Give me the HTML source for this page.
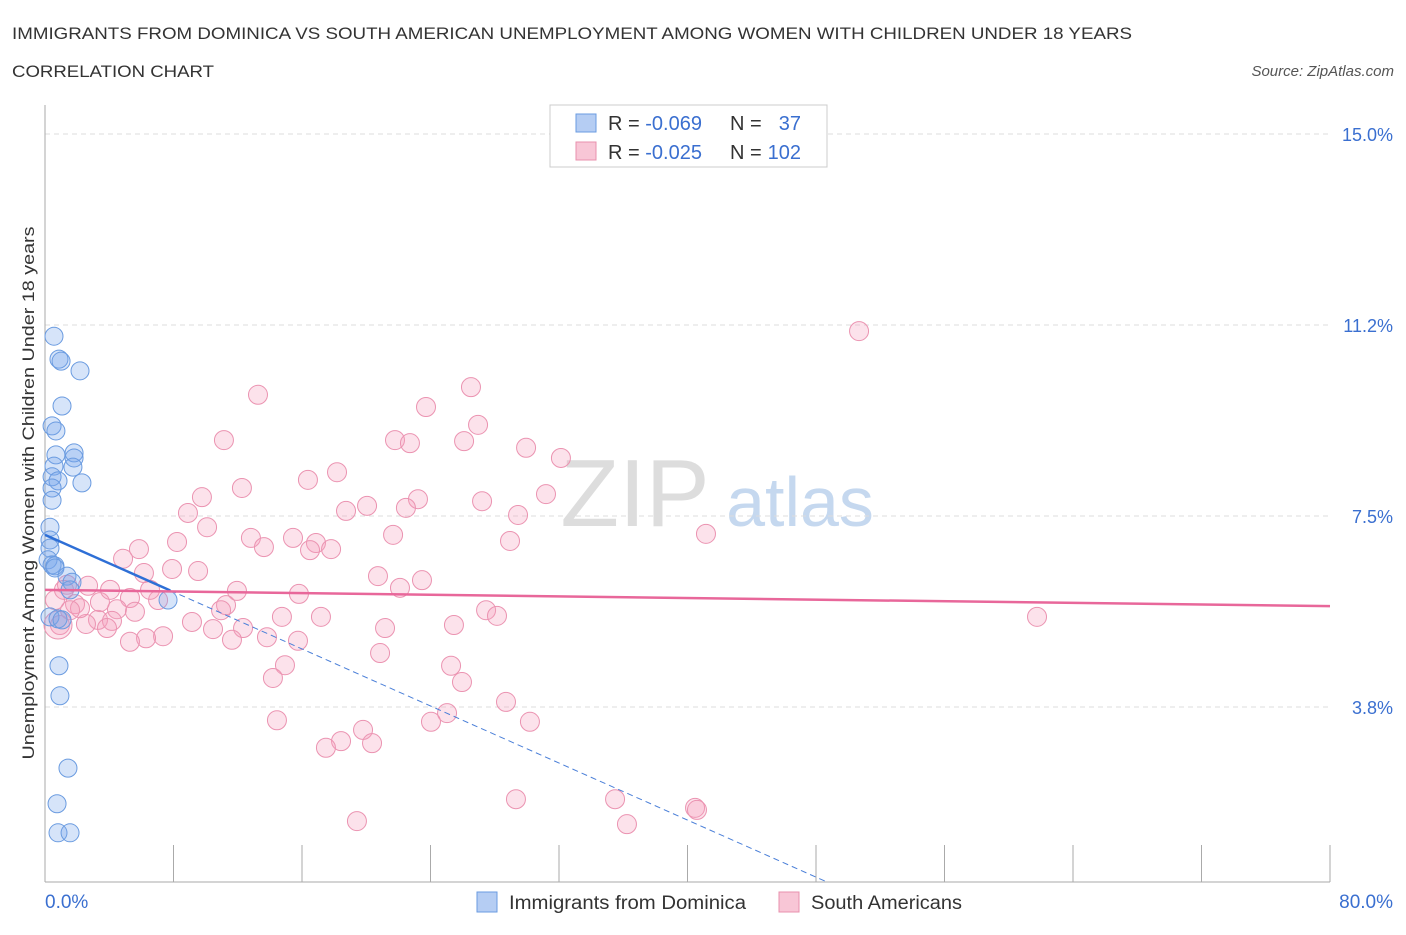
<!DOCTYPE html>
<html><head><meta charset="utf-8"><style>
body{margin:0;background:#fff;font-family:"Liberation Sans",sans-serif;}
svg text{font-family:"Liberation Sans",sans-serif;}
</style></head><body>
<svg id="chart" width="1406" height="930" xmlns="http://www.w3.org/2000/svg">
<text x="12" y="39" font-size="17" fill="#333" textLength="1120" lengthAdjust="spacingAndGlyphs">IMMIGRANTS FROM DOMINICA VS SOUTH AMERICAN UNEMPLOYMENT AMONG WOMEN WITH CHILDREN UNDER 18 YEARS</text>
<text x="12" y="77" font-size="17" fill="#333" textLength="202" lengthAdjust="spacingAndGlyphs">CORRELATION CHART</text>
<text x="1394" y="76" font-size="15" fill="#555" font-style="italic" text-anchor="end">Source: ZipAtlas.com</text>
<text transform="translate(34,493) rotate(-90)" font-size="17" fill="#333" text-anchor="middle" textLength="533" lengthAdjust="spacingAndGlyphs">Unemployment Among Women with Children Under 18 years</text>
<g><text x="635" y="526" font-size="96" fill="#ddd" font-family="Liberation Serif" text-anchor="middle">ZIP</text><text x="800" y="526" font-size="70" fill="#c5d8ef" text-anchor="middle">atlas</text></g>
<g id="grid"></g><g id="axes"></g><g id="pts"></g><g id="lines"></g>
<g>
<rect x="550" y="105" width="277" height="62" fill="#fff" stroke="#ccc"/>
<rect x="576" y="114" width="20" height="18" fill="#b5cdf3" stroke="#6a9be0"/>
<rect x="576" y="142" width="20" height="18" fill="#f8c6d6" stroke="#e890ad"/>
<text x="608" y="130" font-size="20" fill="#333">R = <tspan fill="#3a6fd0">-0.069</tspan></text>
<text x="730" y="130" font-size="20" fill="#333">N =</text>
<text x="801" y="130" font-size="20" fill="#3a6fd0" text-anchor="end">37</text>
<text x="608" y="159" font-size="20" fill="#333">R = <tspan fill="#3a6fd0">-0.025</tspan></text>
<text x="730" y="159" font-size="20" fill="#333">N =</text>
<text x="801" y="159" font-size="20" fill="#3a6fd0" text-anchor="end">102</text>
</g>
<g>
<rect x="477" y="892" width="20" height="20" fill="#b5cdf3" stroke="#6a9be0"/>
<text x="509" y="909" font-size="19" fill="#333" textLength="237" lengthAdjust="spacingAndGlyphs">Immigrants from Dominica</text>
<rect x="779" y="892" width="20" height="20" fill="#f8c6d6" stroke="#e890ad"/>
<text x="811" y="909" font-size="19" fill="#333" textLength="151" lengthAdjust="spacingAndGlyphs">South Americans</text>
</g>
</svg>
<script>
const yTicks=[15,11.25,7.5,3.75];
const yTickLabels=["15.0%","11.2%","7.5%","3.8%"];
const xTickVals=[0,8,16,24,32,40,48,56,64,72,80];
const blueX=[0.56,0.87,1.0,2.18,1.06,0.44,0.68,0.68,1.81,1.81,0.56,1.74,0.44,0.81,2.30,0.44,0.44,0.31,0.31,0.31,0.19,0.44,0.62,0.62,1.37,1.68,1.56,7.66,0.31,0.81,1.06,0.87,0.93,1.43,0.75,0.81,1.56];
const blueY=[11.03,10.58,10.54,10.35,9.66,9.27,9.17,8.70,8.74,8.64,8.48,8.46,8.27,8.19,8.15,8.05,7.81,7.28,7.03,6.87,6.64,6.54,6.52,6.48,6.32,6.20,6.05,5.85,5.52,5.48,5.46,4.56,3.97,2.55,1.85,1.28,1.28];
const pinkX=[50.68,13.26,26.52,23.72,11.14,21.79,22.72,26.09,26.96,29.95,32.12,18.18,16.37,12.26,9.77,31.19,23.22,27.21,20.05,18.74,22.47,8.90,29.45,10.09,41.15,12.82,21.67,28.95,15.44,8.22,16.87,13.63,17.81,5.85,16.50,4.86,9.53,7.91,20.73,23.47,2.68,6.16,22.10,11.95,15.81,1.37,5.29,7.04,4.48,11.27,10.96,27.46,28.14,17.18,14.75,61.76,9.15,3.30,4.17,25.46,2.55,0.93,10.46,3.86,12.33,21.17,7.35,6.29,11.64,5.29,13.82,15.75,20.86,14.94,25.28,14.19,25.96,28.70,25.03,14.44,24.03,30.19,19.80,18.43,20.36,17.49,29.32,35.49,40.47,40.59,19.42,36.23,1.87,2.18,3.42,1.56,0.62,1.18,5.60,6.54,4.05,0.81];
const pinkY=[11.13,9.88,10.03,9.64,8.99,8.99,8.93,8.97,9.29,8.84,8.64,8.36,8.21,8.05,7.87,7.93,7.83,7.79,7.70,7.60,7.66,7.56,7.52,7.28,7.15,7.07,7.13,7.01,7.07,6.99,6.97,6.89,6.85,6.85,6.83,6.66,6.42,6.46,6.32,6.24,6.13,6.38,6.09,6.03,5.97,6.15,5.89,5.85,5.67,5.75,5.65,5.65,5.54,5.52,5.52,5.52,5.42,5.46,5.44,5.36,5.38,5.36,5.28,5.30,5.30,5.30,5.14,5.10,5.07,5.03,5.12,5.05,4.81,4.57,4.56,4.32,4.24,3.85,3.63,3.49,3.46,3.46,3.30,3.08,3.04,2.95,1.94,1.94,1.77,1.73,1.51,1.45,5.77,5.69,5.81,5.65,5.85,6.05,5.62,6.05,6.05,5.36];
const blueFit=[7.13,-0.14];
const pinkFit=[6.05,-0.004];
const X=v=>45+v*16.0625, Y=v=>898-v*50.933;
const NS="http://www.w3.org/2000/svg";
function mk(p,t,a){const e=document.createElementNS(NS,t);for(const k in a)e.setAttribute(k,a[k]);document.getElementById(p).appendChild(e);return e;}
yTicks.forEach((v,i)=>{
 const l=mk('grid','line',{x1:45,x2:1330,y1:Y(v),y2:Y(v),stroke:'#ddd','stroke-dasharray':'5,4'});
 
 
 const t=mk('axes','text',{x:1393,y:Y(v)+7,'font-size':18,fill:'#3a6fd0','text-anchor':'end'});
 t.textContent=yTickLabels[i];
 
 
});
const ax=mk('axes','line',{x1:45,x2:45,y1:105,y2:882,stroke:'#aaa'});


const bx=mk('axes','line',{x1:45,x2:1330,y1:882,y2:882,stroke:'#aaa'});


xTickVals.forEach(v=>{
 const t=mk('axes','line',{x1:X(v),x2:X(v),y1:845,y2:882,stroke:'#aaa'});
 
 
});
[[0,"0.0%","start",45],[80,"80.0%","end",1393]].forEach(d=>{
 const t=mk('axes','text',{x:d[3],y:908,'font-size':19,fill:'#3a6fd0','text-anchor':d[2]});
 t.textContent=d[1];
 
 
});
pinkX.forEach((x,i)=>{
 const c=mk('pts','circle',{cx:X(x),cy:Y(pinkY[i]),r:i==pinkX.length-1?14:9.5,fill:'rgba(244,160,188,0.3)',stroke:'#eb93b1','stroke-width':1});
 
 
});
blueX.forEach((x,i)=>{
 const c=mk('pts','circle',{cx:X(x),cy:Y(blueY[i]),r:9,fill:'rgba(120,165,235,0.3)',stroke:'#6a9be0','stroke-width':1});
 
 
});
const yb=0.31, xEnd=(yb-blueFit[0])/blueFit[1];
const d1=mk('lines','line',{x1:X(7.8),y1:Y(blueFit[0]+blueFit[1]*7.8),x2:X(xEnd),y2:Y(yb),stroke:'#4a7fd8','stroke-width':1,'stroke-dasharray':'6,4'});


const l1=mk('lines','line',{x1:X(0),y1:Y(blueFit[0]),x2:X(7.8),y2:Y(blueFit[0]+blueFit[1]*7.8),stroke:'#2e6fd6','stroke-width':2.5});


const l2=mk('lines','line',{x1:X(0),y1:Y(pinkFit[0]),x2:X(80),y2:Y(pinkFit[0]+pinkFit[1]*80),stroke:'#e8679a','stroke-width':2.5});


</script>
</body></html>
